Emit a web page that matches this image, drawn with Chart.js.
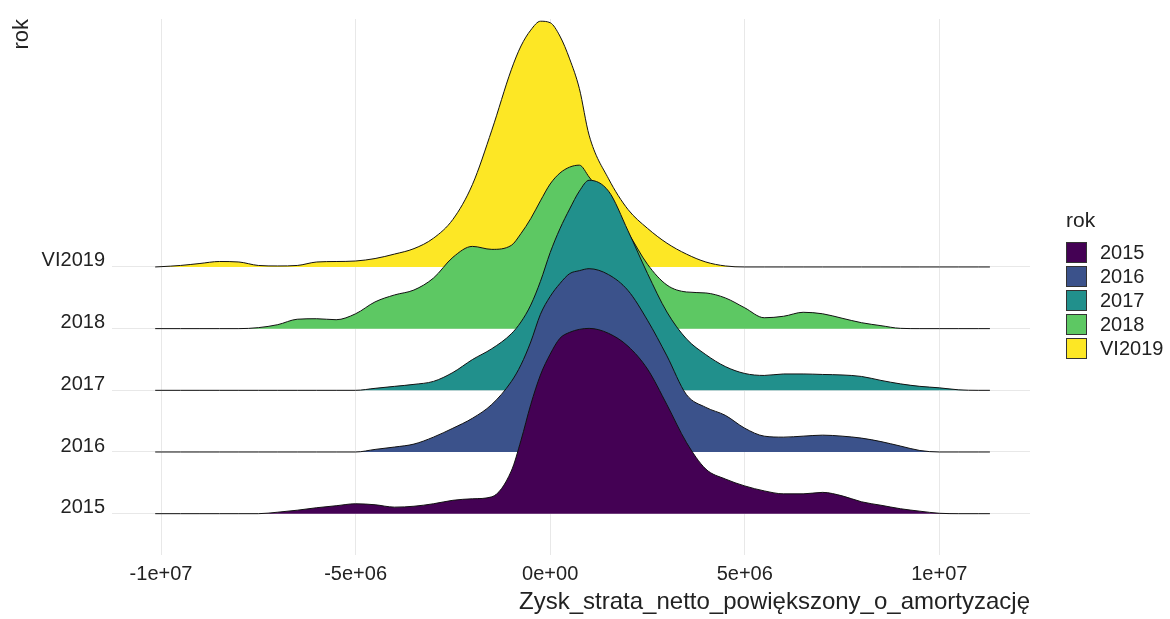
<!DOCTYPE html>
<html>
<head>
<meta charset="utf-8">
<script src="https://cdn.jsdelivr.net/npm/chart.js@4.4.1/dist/chart.umd.min.js"></script>
<style>
  body { margin: 0; background: #fff; }
  #wrap { position: relative; width: 1170px; height: 619px; }
  #ridges { position: absolute; left: 0; top: 0; }
  #legend { position: absolute; left: 1066px; top: 207px; font-family: 'Liberation Sans', Arial, sans-serif; color: #222; }
  #legend .title { font-size: 21px; height: 33px; line-height: 26px; }
  #legend .row { display: flex; align-items: center; height: 24px; }
  #legend .key { width: 19px; height: 19px; border: 1px solid #333; margin-right: 13px; }
  #legend .label { font-size: 20px; line-height: 22px; }
</style>
</head>
<body>
<div id="wrap">
  <canvas id="ridges" width="1170" height="619"></canvas>
  <div id="legend"></div>
</div>
<script>
const rokLabels = ['2015', '2016', '2017', '2018', 'VI2019'];
const rokColors = ['#440154', '#3b528b', '#21908c', '#5dc863', '#fde725'];

// x positions in millions (Zysk_strata_netto...)
const xGrid = [-10.15, -10, -9.5, -9, -8.5, -8, -7.5, -7, -6.5, -6, -5.5, -5, -4.5, -4, -3.5, -3, -2.5, -2, -1.5,
  -1, -0.75, -0.5, -0.25, 0, 0.25, 0.5, 0.75, 1,
  1.5, 2, 2.5, 3, 3.5, 4, 4.5, 5, 5.5, 6, 6.5, 7, 7.5, 8, 8.5, 9, 9.5, 10, 10.5, 11, 11.3];

// relative density per year
const dens2015 = [0, 0, 0, 0, 0, 0, 0, 1.5, 3.5, 6, 8, 10, 9, 6.6, 7.5, 10, 13.5, 15, 17,
  43, 74, 110, 140, 161, 177, 183, 186, 187,
  182, 169, 146, 110, 72, 45, 35, 28, 23, 20, 20, 21.5, 18, 12, 8.5, 5, 2.5, 0.4, 0, 0, 0];
const dens2016 = [0, 0, 0, 0, 0, 0, 0, 0, 0, 0, 0, 0, 2.6, 5, 8, 15, 24, 34, 48,
  71, 88, 111, 139, 157, 170, 180, 183, 185,
  179, 163, 133, 97, 58, 45, 37, 24, 16, 15, 16, 17, 16, 14, 10.5, 6, 1.5, 0, 0, 0, 0];
const dens2017 = [0, 0, 0, 0, 0, 0, 0, 0, 0, 0, 0, 0, 2, 4, 6, 9, 18, 31, 42,
  57, 69, 86, 110, 139, 163, 183, 201, 212,
  201, 161, 118, 79, 52, 36, 24, 17, 15, 16.5, 16.5, 16, 15.5, 14, 10, 6.5, 4, 2.5, 0.5, 0, 0];
const dens2018 = [0, 0, 0, 0, 0, 0, 1, 4, 9.5, 10, 9, 15, 27, 34, 39, 51, 72, 83, 80,
  84, 96, 111, 129, 146, 157, 163, 165, 153,
  127, 97, 65, 44, 37, 36, 31, 21, 11, 12.5, 16.5, 15, 10.5, 6, 3, 0.3, 0, 0, 0, 0, 0];
const densVI2019 = [0, 0.3, 1.5, 3.5, 5.5, 5, 1.5, 1, 1.5, 5, 5.5, 6, 8.5, 13, 18.5, 29, 48, 83, 138,
  199, 223, 239, 248, 246.5, 233, 210, 180, 133,
  89, 58, 39, 24, 13, 5, 1, 0, 0, 0, 0, 0, 0, 0, 0, 0, 0, 0, 0, 0, 0];

const densByRok = [dens2015, dens2016, dens2017, dens2018, densVI2019];

const xTickValues = [-1e7, -5e6, 0, 5e6, 1e7];
const xTickLabels = ['-1e+07', '-5e+06', '0e+00', '5e+06', '1e+07'];

const ridgeScale = 1 / 62.25;
const fontFamily = "'Liberation Sans', Arial, sans-serif";
const textColor = '#222';
const gridColor = '#e8e8e8';

// first dataset is drawn last, so 2015 sits in front
const datasets = rokLabels.map((rok, i) => ({
    label: rok,
    data: xGrid.map((x, j) => ({ x: x * 1e6, y: (i + 1) + densByRok[i][j] * ridgeScale })),
    borderColor: '#111111',
    borderWidth: 1,
    backgroundColor: rokColors[i],
    fill: { value: i + 1 },
    pointRadius: 0,
    cubicInterpolationMode: 'monotone',
    borderJoinStyle: 'round'
}));

new Chart(document.getElementById('ridges').getContext('2d'), {
    type: 'line',
    data: { datasets: datasets },
    options: {
        responsive: false,
        animation: false,
        layout: {
            padding: { top: 14, right: 140, bottom: 0, left: 0 }
        },
        plugins: {
            legend: { display: false },
            tooltip: { enabled: false }
        },
        scales: {
            x: {
                type: 'linear',
                min: -11.26e6,
                max: 12.33e6,
                afterBuildTicks: scale => {
                    scale.ticks = xTickValues.map(v => ({ value: v }));
                },
                afterFit: scale => {
                    scale.height = 64;
                },
                ticks: {
                    padding: 7,
                    maxRotation: 0,
                    autoSkip: false,
                    color: textColor,
                    font: { family: fontFamily, size: 20 },
                    callback: (value, index) => xTickLabels[index]
                },
                grid: { color: gridColor, lineWidth: 1, drawTicks: false },
                border: { display: false },
                title: {
                    display: true,
                    text: 'Zysk_strata_netto_powiększony_o_amortyzację',
                    align: 'end',
                    color: textColor,
                    font: { family: fontFamily, size: 24 },
                    padding: { top: 0, bottom: 2 }
                }
            },
            y: {
                type: 'linear',
                min: 0.33,
                max: 9.02,
                afterBuildTicks: scale => {
                    scale.ticks = rokLabels.map((r, i) => ({ value: i + 1 }));
                },
                afterFit: scale => {
                    scale.width = 112;
                },
                ticks: {
                    padding: 7,
                    labelOffset: -6,
                    autoSkip: false,
                    color: textColor,
                    font: { family: fontFamily, size: 20 },
                    callback: value => rokLabels[value - 1]
                },
                grid: { color: gridColor, lineWidth: 1, drawTicks: false },
                border: { display: false },
                title: {
                    display: true,
                    text: 'rok',
                    align: 'end',
                    color: textColor,
                    font: { family: fontFamily, size: 22 },
                    padding: { top: 9, bottom: 0 }
                }
            }
        }
    }
});

// legend, same order as the ggplot one
const legendDiv = document.getElementById('legend');
legendDiv.innerHTML = '<div class="title">rok</div>' + rokLabels.map((rok, i) =>
    '<div class="row"><div class="key" style="background:' + rokColors[i] + '"></div><span class="label">' + rok + '</span></div>'
).join('');
</script>
</body>
</html>
